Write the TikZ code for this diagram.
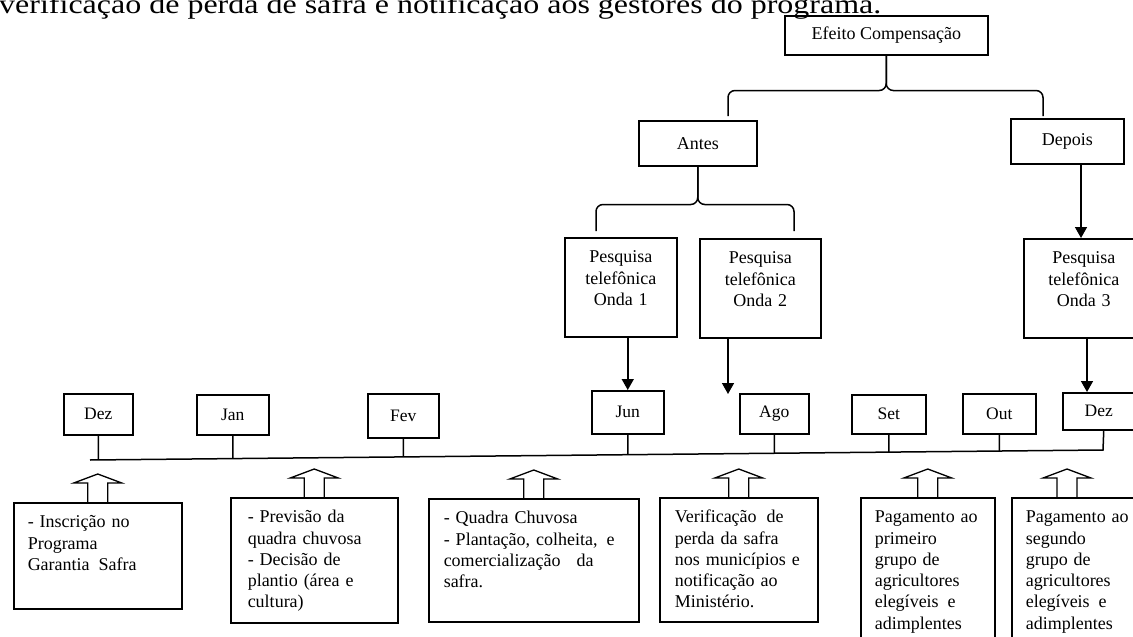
\documentclass[tikz,border=0pt]{standalone}
\usepackage{fontspec}
\setmainfont{Liberation Serif}
\newfontfamily\titlefont[FakeStretch=1.185]{Liberation Serif}
\usetikzlibrary{calc,arrows.meta}
\tikzset{
  ln/.style={line width=1.5pt},
  hbox/.style={draw, line width=1.5pt, anchor=north west, inner sep=0pt, font=\fontsize{18}{21.3}\selectfont},
  mbox/.style={hbox, font=\fontsize{17.5}{21}\selectfont},
  obox/.style={hbox, align=center, text height=25pt, text depth=74pt, inner xsep=6pt},
  tbox/.style={hbox, align=left, text height=25pt},
  arr/.style={line width=1.5pt, -{Triangle[width=12pt,length=11pt]}},
  blockup/.pic={\draw[line width=1.3pt] (-10,0) -- (-10,-19) -- (-24,-19) -- (0,-28) -- (24,-19) -- (10,-19) -- (10,0);}
}
\begin{document}
\begin{tikzpicture}[x=1pt,y=-1pt]
\useasboundingbox (0,0) rectangle (1133,637);
\clip (0,0) rectangle (1133,637);

% title line (cut at top)
\node[anchor=base west, inner sep=0pt, font=\titlefont\fontsize{27}{30}\selectfont] (title) at (-1,13.5)
  {verificação de perda de safra e notificação aos gestores do programa.};

% header boxes
\node[hbox, minimum width=203, minimum height=39] (ef) at (784,15) {Efeito Compensação};
\node[hbox, minimum width=118, minimum height=45] (antes) at (638,120) {Antes};
\node[hbox, minimum width=113, minimum height=45] (dep) at (1010,118) {Depois};

\node[obox, text width=100] (o1) at (564,237) {Pesquisa\\telefônica\\Onda 1};
\node[obox, text width=109] (o2) at (699,238) {Pesquisa\\telefônica\\Onda 2};
\node[obox, text width=108] (o3) at (1023,238) {Pesquisa\\telefônica\\Onda 3};

% months
\node[mbox, minimum width=69, minimum height=41] (m1) at (63,393) {Dez};
\node[mbox, minimum width=72, minimum height=40] (m2) at (196,394) {Jan};
\node[mbox, minimum width=71, minimum height=44] (m3) at (367,393) {Fev};
\node[mbox, minimum width=72, minimum height=43] (m4) at (591,390) {Jun};
\node[mbox, minimum width=69, minimum height=40] (m5) at (739,393) {Ago};
\node[mbox, minimum width=74, minimum height=39] (m6) at (851,394) {Set};
\node[mbox, minimum width=73, minimum height=40] (m7) at (962,393) {Out};
\node[mbox, minimum width=82, minimum height=37] (m8) at (1062,392) {\hspace*{-10pt}Dez};

% bottom boxes
\node[tbox, text width=140, inner xsep=14, text depth=81] (b1) at (13,502)
  {- Inscrição no\\Programa\\Garantia\hspace{3pt} Safra};
\node[tbox, text width=133, inner xsep=17, text depth=100] (b2) at (230,497)
  {- Previsão da\\quadra chuvosa\\- Decisão de\\plantio (área e\\cultura)};
\node[tbox, text width=180, inner xsep=15, text depth=98] (b3) at (428,498)
  {- Quadra Chuvosa\\- Plantação, colheita,\hspace{3pt} e\\comercialização\hspace{10pt} da\\safra.};
\node[tbox, text width=128, inner xsep=15, text depth=99] (b4) at (659,497)
  {Verificação\hspace{4pt} de\\perda da safra\\nos municípios e\\notificação ao\\Ministério.};
\node[tbox, text width=106, inner xsep=14, text depth=125] (b5) at (860,497)
  {Pagamento ao\\primeiro\\grupo de\\agricultores\\elegíveis\hspace{3pt} e\\adimplentes};
\node[tbox, text width=107, inner xsep=14, text depth=125] (b6) at (1011,497)
  {Pagamento ao\\segundo\\grupo de\\agricultores\\elegíveis\hspace{3pt} e\\adimplentes};

% braces
\path (ef.south) ++(0,35) coordinate (ebj);
\coordinate (ebl) at (728,116);
\coordinate (ebr) at (1043,116);
\draw[ln, rounded corners=7pt] (ef.south) -- (ebj) -- (ebj -| ebl) -- (ebl);
\draw[ln, rounded corners=7pt] (ef.south) -- (ebj) -- (ebj -| ebr) -- (ebr);

\path (antes.south) ++(0,38) coordinate (abj);
\coordinate (abl) at (596,231);
\coordinate (abr) at (794,231);
\draw[ln, rounded corners=7pt] (antes.south) -- (abj) -- (abj -| abl) -- (abl);
\draw[ln, rounded corners=7pt] (antes.south) -- (abj) -- (abj -| abr) -- (abr);

% arrows
\coordinate (xd) at (1081,0);
\draw[arr] (dep.south -| xd) -- (o3.north -| xd);
\draw[arr] (o1.south -| m4.north) -- (m4.north);
\coordinate (o2end) at (728,394);
\draw[arr] (o2.south -| o2end) -- (o2end);
\coordinate (xo) at (1087,0);
\draw[arr] (o3.south -| xo) -- (m8.north -| xo);

% timeline
\coordinate (t0) at (90,460);
\coordinate (t1) at (1103,450);
\draw[ln] (t0) -- (t1) -- (m8.south);
\foreach \m in {m1,m2,m3,m4,m5,m6,m7}
  \draw[ln] (\m.south) -- ($(t0)!(\m.south)!(t1)$);

% block arrows
\foreach \b in {b1,b2,b3,b4,b5}
  \pic at (\b.north) {blockup};
\pic at ($(b6.north west)+(56,0)$) {blockup};
\end{tikzpicture}
\end{document}
